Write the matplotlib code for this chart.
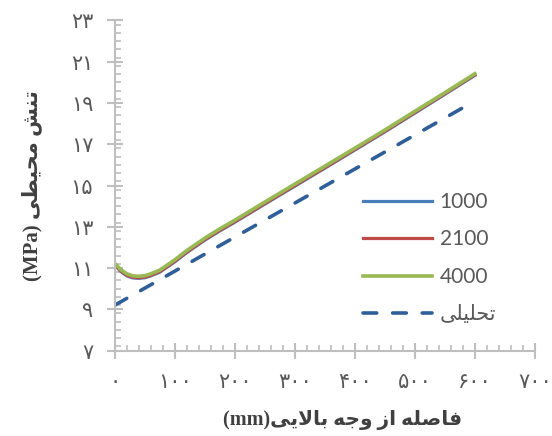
import matplotlib
matplotlib.use("Agg")
import matplotlib.pyplot as plt
from matplotlib.ticker import FixedLocator, MultipleLocator

# data
x_mm = [0, 10, 20, 30, 40, 50, 60, 75, 100, 120, 150, 175, 200, 250, 300, 350, 400, 450, 500, 550, 600]
s1000 = [11.14, 10.83, 10.62, 10.52, 10.50, 10.53, 10.62, 10.80, 11.30, 11.75, 12.35, 12.80, 13.22,
         14.10, 14.97, 15.84, 16.72, 17.60, 18.51, 19.42, 20.34]
s2100 = [11.17, 10.86, 10.65, 10.55, 10.53, 10.56, 10.65, 10.83, 11.33, 11.78, 12.38, 12.83, 13.25,
         14.13, 15.00, 15.87, 16.75, 17.63, 18.54, 19.45, 20.37]
s4000 = [11.22, 10.92, 10.72, 10.62, 10.60, 10.63, 10.72, 10.90, 11.40, 11.85, 12.45, 12.90, 13.32,
         14.20, 15.07, 15.94, 16.81, 17.69, 18.60, 19.50, 20.42]
x_analytic = [0, 600]
s_analytic = [9.2, 19.1]

xtick_vals = [0, 100, 200, 300, 400, 500, 600, 700]
xtick_labels = ["۰", "۱۰۰", "۲۰۰", "۳۰۰", "۴۰۰", "۵۰۰", "۶۰۰", "۷۰۰"]
ytick_vals = [7, 9, 11, 13, 15, 17, 19, 21, 23]
ytick_labels = ["۷", "۹", "۱۱", "۱۳", "۱۵", "۱۷", "۱۹", "۲۱", "۲۳"]

series_names = ["1000", "2100", "4000"]
analytic_name = "تحلیلی"
xlabel_fa = "فاصله از وجه بالایی"
ylabel_fa = "تنش محیطی"

# simple arabic shaping (presentation forms) since matplotlib does no shaping / bidi
FORMS = {
    "\u0627": ("\uFE8D", "\uFE8E", None, None),
    "\u0628": ("\uFE8F", "\uFE90", "\uFE91", "\uFE92"),
    "\u062A": ("\uFE95", "\uFE96", "\uFE97", "\uFE98"),
    "\u062C": ("\uFE9D", "\uFE9E", "\uFE9F", "\uFEA0"),
    "\u062D": ("\uFEA1", "\uFEA2", "\uFEA3", "\uFEA4"),
    "\u0632": ("\uFEAF", "\uFEB0", None, None),
    "\u0634": ("\uFEB5", "\uFEB6", "\uFEB7", "\uFEB8"),
    "\u0635": ("\uFEB9", "\uFEBA", "\uFEBB", "\uFEBC"),
    "\u0637": ("\uFEC1", "\uFEC2", "\uFEC3", "\uFEC4"),
    "\u0641": ("\uFED1", "\uFED2", "\uFED3", "\uFED4"),
    "\u0644": ("\uFEDD", "\uFEDE", "\uFEDF", "\uFEE0"),
    "\u0645": ("\uFEE1", "\uFEE2", "\uFEE3", "\uFEE4"),
    "\u0646": ("\uFEE5", "\uFEE6", "\uFEE7", "\uFEE8"),
    "\u0647": ("\uFEE9", "\uFEEA", "\uFEEB", "\uFEEC"),
    "\u0648": ("\uFEED", "\uFEEE", None, None),
    "\u06CC": ("\uFEEF", "\uFEF0", "\uFEF3", "\uFEF4"),
}


def shape_rtl(s):
    out = []
    i = 0
    while i < len(s):
        c = s[i]
        if c not in FORMS:
            out.append(c)
            i += 1
            continue
        prev = s[i - 1] if i > 0 else ""
        prev_join = prev in FORMS and FORMS[prev][2] is not None
        if c == "\u0644" and i + 1 < len(s) and s[i + 1] == "\u0627":
            out.append("\uFEFC" if prev_join else "\uFEFB")
            i += 2
            continue
        nxt = s[i + 1] if i + 1 < len(s) else ""
        next_join = FORMS[c][2] is not None and nxt in FORMS
        iso, fin, ini, med = FORMS[c]
        if prev_join and next_join:
            out.append(med)
        elif prev_join:
            out.append(fin)
        elif next_join:
            out.append(ini)
        else:
            out.append(iso)
        i += 1
    return "".join(reversed(out))


fig = plt.figure(figsize=(5.52, 4.36), dpi=100)
ax = fig.add_axes([0.208, 0.196, 0.761, 0.757])

ax.plot(x_mm, s1000, color="#4A7EBB", lw=2.3, label=series_names[0])
ax.plot(x_mm, s2100, color="#BE4B48", lw=2.3, label=series_names[1])
ax.plot(x_mm, s4000, color="#98B954", lw=2.6, label=series_names[2])
ax.plot(x_analytic, s_analytic, color="#2F5F98", lw=2.6, dashes=(3.8, 4.4),
        dash_capstyle="round", label=shape_rtl(analytic_name))

ax.set_xlim(0, 700)
ax.set_ylim(7, 23)
ax.xaxis.set_major_locator(FixedLocator(xtick_vals))
ax.set_xticklabels(xtick_labels)
ax.yaxis.set_major_locator(FixedLocator(ytick_vals))
ax.set_yticklabels(ytick_labels)
ax.xaxis.set_minor_locator(MultipleLocator(20))
ax.yaxis.set_minor_locator(MultipleLocator(0.4))

for side in ["top", "right"]:
    ax.spines[side].set_visible(False)
for side in ["left", "bottom"]:
    ax.spines[side].set_color("#BFBFBF")
    ax.spines[side].set_linewidth(1.5)

ax.tick_params(which="major", direction="inout", length=11, width=1.5, color="#BFBFBF",
               labelsize=15, labelcolor="#595959")
ax.tick_params(which="minor", direction="in", length=4, width=1.2, color="#BFBFBF")
ax.tick_params(axis="y", which="major", pad=10)
ax.tick_params(axis="x", which="major", pad=10)
for lab in ax.get_xticklabels() + ax.get_yticklabels():
    lab.set_family("DejaVu Sans")

label_font = ["Liberation Serif", "DejaVu Sans"]
ax.set_xlabel("(mm)" + shape_rtl(xlabel_fa), family=label_font, fontweight="bold",
              fontsize=14.5, color="#404040")
ax.xaxis.set_label_coords(0.543, -0.18)
ax.set_ylabel("(MPa) " + shape_rtl(ylabel_fa), family=label_font, fontweight="bold",
              fontsize=15, color="#404040")
ax.yaxis.set_label_coords(-0.172, 0.5)

leg = ax.legend(loc="center left", bbox_to_anchor=(0.59, 0.28), frameon=False,
                prop={"family": ["Lato", "DejaVu Sans"], "size": 15},
                handlelength=3.35, handletextpad=0.35, labelspacing=0.84,
                borderpad=0, borderaxespad=0)
for t in leg.get_texts():
    t.set_color("#595959")

fig.savefig("out.png", dpi=100)
